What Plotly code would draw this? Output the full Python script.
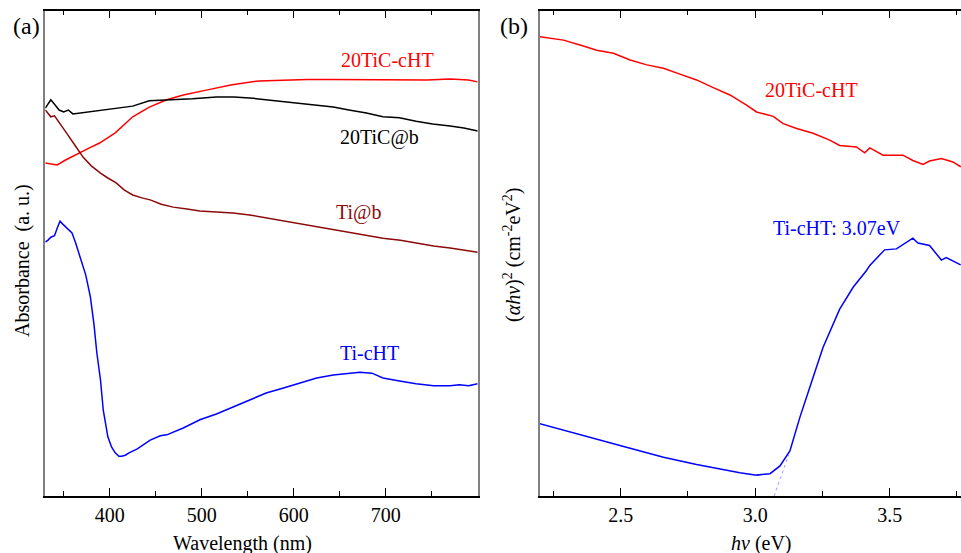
import plotly.graph_objects as go

# ---------------- Panel (a): absorbance vs wavelength ----------------
wl_red = [330, 335, 343, 352, 366, 378, 389, 406, 425, 443, 462, 480, 505, 533, 562, 587,
          615, 642, 680, 715, 745, 770, 790, 800]
abs_red = [68.6, 68.4, 68.2, 69.2, 70.6, 71.7, 72.7, 74.8, 78.1, 80.1, 81.6, 82.6, 83.6, 84.7,
           85.5, 85.7, 85.8, 85.8, 85.8, 85.8, 85.7, 85.9, 85.7, 85.3]

wl_black = [330, 333, 336, 340, 345, 350, 355, 360, 368, 378, 389, 405, 425, 443, 469, 490,
            516, 535, 552, 570, 588, 615, 643, 660, 679, 697, 715, 733, 751, 770, 785, 800]
abs_black = [79.9, 80.9, 81.6, 80.7, 79.5, 79.1, 79.5, 78.7, 78.9, 79.1, 79.5, 79.9, 80.3, 81.4,
             81.6, 81.8, 82.2, 82.2, 82.0, 81.6, 81.2, 80.7, 80.1, 79.5, 78.9, 78.1, 77.9, 77.2,
             76.6, 76.2, 75.8, 75.2]

wl_darkred = [330, 333, 336, 340, 345, 353, 362, 371, 380, 390, 398, 407, 416, 425, 435, 444,
              456, 469, 484, 498, 516, 534, 552, 570, 590, 607, 625, 643, 661, 679, 697, 716,
              734, 752, 770, 785, 800]
abs_darkred = [79.5, 78.7, 78.1, 78.3, 77.0, 74.8, 72.3, 69.8, 68.0, 66.5, 65.5, 64.5, 63.0,
               62.0, 61.4, 61.0, 60.1, 59.5, 59.1, 58.7, 58.5, 58.3, 57.9, 57.3, 56.6, 56.0,
               55.4, 54.8, 54.2, 53.6, 53.1, 52.7, 52.1, 51.5, 51.1, 50.7, 50.2]

wl_blue = [330, 333, 336, 340, 343, 346, 349, 353, 356, 359, 363, 368, 374, 379, 383, 386, 390,
           393, 396, 398, 402, 406, 410, 413, 417, 421, 430, 444, 455, 462, 480, 498, 516, 534,
           552, 570, 588, 607, 625, 643, 660, 672, 685, 697, 715, 733, 752, 770, 780, 790, 800]
abs_blue = [52.3, 52.7, 53.3, 53.6, 55.2, 56.6, 56.0, 55.2, 54.8, 54.2, 52.1, 49.2, 45.5, 41.0,
            35.2, 29.5, 23.9, 17.7, 14.0, 12.2, 10.1, 8.9, 8.2, 8.2, 8.4, 8.9, 9.7, 11.5, 12.4,
            12.6, 14.0, 15.7, 16.9, 18.3, 19.8, 21.2, 22.2, 23.3, 24.3, 24.9, 25.3, 25.5, 25.3,
            24.3, 23.7, 23.1, 22.7, 22.7, 22.9, 22.7, 23.1]

wl_ticks = [400, 500, 600, 700]
wl_ticktext = ["400", "500", "600", "700"]

# ---------------- Panel (b): Tauc plot ----------------
ev_red = [2.198, 2.287, 2.349, 2.411, 2.473, 2.535, 2.597, 2.659, 2.720, 2.782, 2.844, 2.906,
          2.968, 3.005, 3.067, 3.104, 3.154, 3.215, 3.277, 3.314, 3.376, 3.407, 3.426, 3.475,
          3.549, 3.586, 3.624, 3.648, 3.692, 3.735, 3.764]
tauc_red = [94.6, 93.9, 92.9, 91.8, 91.2, 89.8, 88.8, 88.1, 86.9, 85.7, 84.1, 82.6, 80.5, 79.1,
            78.2, 76.7, 75.7, 74.7, 73.3, 72.2, 71.9, 70.7, 71.7, 70.2, 70.2, 69.1, 68.3, 69.0,
            69.5, 68.8, 67.8]

ev_blue = [2.198, 2.349, 2.504, 2.659, 2.782, 2.943, 3.005, 3.055, 3.092, 3.129, 3.166, 3.203,
           3.252, 3.314, 3.364, 3.413, 3.426, 3.481, 3.525, 3.586, 3.605, 3.648, 3.692, 3.710,
           3.764]
tauc_blue = [14.9, 12.7, 10.3, 8.0, 6.5, 4.8, 4.3, 4.6, 6.2, 9.3, 16.2, 22.4, 30.6, 38.5, 43.0,
             46.4, 47.5, 50.7, 50.9, 53.1, 52.1, 51.6, 48.6, 49.1, 47.6]

tangent_ev = [3.07, 3.125]
tangent_val = [0.0, 8.5]

ev_ticks = [2.5, 3.0, 3.5]
ev_ticktext = ["2.5", "3.0", "3.5"]

# ---------------- Figure ----------------
W, H = 961, 553
FONT = "Liberation Serif"
RED = "#ff0000"
DARKRED = "#8b0a0a"
BLUE = "#0000ff"

fig = go.Figure()
lw = 1.5
fig.add_trace(go.Scatter(x=wl_red, y=abs_red, mode="lines", line=dict(color=RED, width=lw),
                         xaxis="x", yaxis="y", showlegend=False))
fig.add_trace(go.Scatter(x=wl_black, y=abs_black, mode="lines", line=dict(color="#000000", width=lw),
                         xaxis="x", yaxis="y", showlegend=False))
fig.add_trace(go.Scatter(x=wl_darkred, y=abs_darkred, mode="lines", line=dict(color=DARKRED, width=lw),
                         xaxis="x", yaxis="y", showlegend=False))
fig.add_trace(go.Scatter(x=wl_blue, y=abs_blue, mode="lines", line=dict(color=BLUE, width=lw),
                         xaxis="x", yaxis="y", showlegend=False))

fig.add_trace(go.Scatter(x=ev_red, y=tauc_red, mode="lines", line=dict(color=RED, width=lw),
                         xaxis="x2", yaxis="y2", showlegend=False))
fig.add_trace(go.Scatter(x=ev_blue, y=tauc_blue, mode="lines", line=dict(color=BLUE, width=lw),
                         xaxis="x2", yaxis="y2", showlegend=False))
fig.add_trace(go.Scatter(x=tangent_ev, y=tangent_val, mode="lines",
                         line=dict(color="#8080ff", width=0.8, dash="dot"),
                         xaxis="x2", yaxis="y2", showlegend=False))

ydom = [(H - 496) / H, (H - 10.5) / H]

common_x = dict(showline=True, linecolor="#000000", linewidth=1.5, mirror="ticks",
                ticks="inside", ticklen=8, tickwidth=1, tickcolor="#000000",
                showgrid=False, zeroline=False,
                tickfont=dict(family=FONT, size=20, color="#000000"))
common_y = dict(showline=True, linecolor="#808080", linewidth=1.5, ticks="",
                showticklabels=False, showgrid=False, zeroline=False, range=[0, 100],
                domain=ydom)

fig.update_layout(
    width=W, height=H,
    margin=dict(l=0, r=0, t=0, b=0),
    paper_bgcolor="#ffffff", plot_bgcolor="#ffffff",
    font=dict(family=FONT, size=20, color="#000000"),
    xaxis=dict(domain=[45.3 / W, 477.7 / W], range=[330, 800], anchor="y",
               tickmode="array", tickvals=wl_ticks, ticktext=wl_ticktext,
               minor=dict(ticks="inside", ticklen=5, tickwidth=1, tickcolor="#000000",
                          dtick=50, tick0=0, showgrid=False),
               **common_x),
    yaxis=dict(anchor="x", mirror=True, **common_y),
    xaxis2=dict(domain=[540 / W, 1.0], range=[2.2, 3.765], anchor="y2",
                tickmode="array", tickvals=ev_ticks, ticktext=ev_ticktext,
                minor=dict(ticks="inside", ticklen=5, tickwidth=1, tickcolor="#000000",
                           dtick=0.25, tick0=0, showgrid=False),
                **common_x),
    yaxis2=dict(anchor="x2", mirror=False, **common_y),
)

def px(x):
    return x / W

def py(y):
    return 1 - y / H

ann = [
    dict(text="(a)", x=px(26), y=py(26), size=24, color="#000000", angle=0),
    dict(text="(b)", x=px(514), y=py(26), size=24, color="#000000", angle=0),
    dict(text="Absorbance  (a. u.)", x=px(22), y=py(261), size=20, color="#000000", angle=-90),
    dict(text="(<i>αhν</i>)<sup>2</sup> (cm<sup>-2</sup>eV<sup>2</sup>)", x=px(512), y=py(255),
         size=20, color="#000000", angle=-90),
    dict(text="Wavelength (nm)", x=px(242), y=py(543), size=20, color="#000000", angle=0),
    dict(text="<i>hν</i> (eV)", x=px(761), y=py(543), size=20, color="#000000", angle=0),
    dict(text="20TiC-cHT", x=px(387), y=py(60), size=20, color=RED, angle=0),
    dict(text="20TiC@b", x=px(379), y=py(137), size=20, color="#000000", angle=0),
    dict(text="Ti@b", x=px(359), y=py(212), size=20, color=DARKRED, angle=0),
    dict(text="Ti-cHT", x=px(369), y=py(353), size=20, color=BLUE, angle=0),
    dict(text="20TiC-cHT", x=px(811), y=py(90), size=20, color=RED, angle=0),
    dict(text="Ti-cHT: 3.07eV", x=px(837), y=py(228), size=20, color=BLUE, angle=0),
]
for a in ann:
    fig.add_annotation(text=a["text"], x=a["x"], y=a["y"], xref="paper", yref="paper",
                       xanchor="center", yanchor="middle", showarrow=False,
                       textangle=a["angle"],
                       font=dict(family=FONT, size=a["size"], color=a["color"]))

fig.write_html("out.html", config={"displayModeBar": False},
               post_script="document.body.style.margin='0';document.body.style.overflow='hidden';")
